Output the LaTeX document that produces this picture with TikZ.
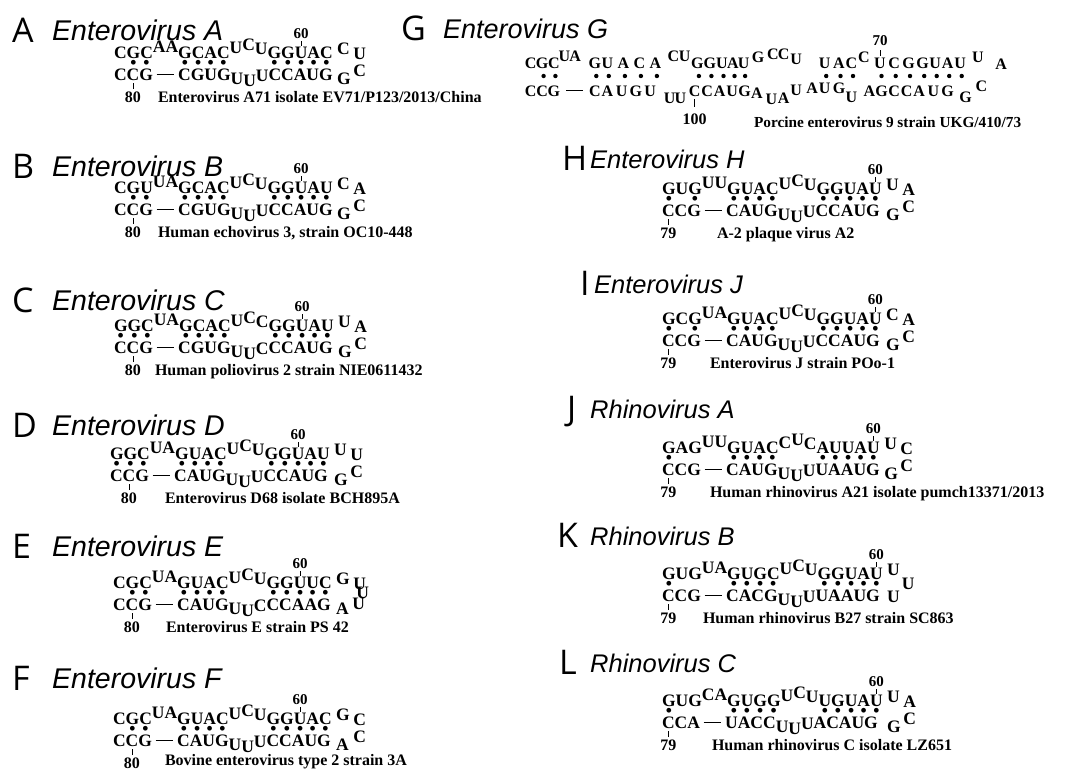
\documentclass[tikz,border=0pt]{standalone}
\usepackage{fontspec}
\setmainfont{Liberation Serif}
\newfontfamily\ttlfont{Liberation Sans}
\newfontfamily\bigfont{Open Sans}
\newcommand\Rup[2]{\raisebox{#1}{#2}}
\newcommand\Rdot[1]{\setbox0\hbox{#1}\hbox to\wd0{\hss\textbullet\hss}}
\newcommand\Rph[1]{\phantom{#1}}
\newcommand\Rdash[1]{\setbox0\hbox{#1}\hbox to\wd0{\hss\rule[0.3em]{0.7\wd0}{0.07em}\hss}}
\newcommand\Rtop[2]{\setbox0\hbox{#1}\rlap{\hbox to\wd0{\hss\raisebox{12.5pt}{\rule{0.7pt}{5pt}}\hss}}\rlap{\hbox to\wd0{\hss\raisebox{19.5pt}{\fontsize{15}{15}\selectfont#2}\hss}}#1}
\newcommand\Rbot[2]{\setbox0\hbox{#1}\rlap{\hbox to\wd0{\hss\raisebox{-9pt}{\rule{0.7pt}{6pt}}\hss}}\rlap{\hbox to\wd0{\hss\raisebox{-22pt}{\fontsize{16}{16}\selectfont#2}\hss}}#1}
\newcommand\Rtl[3]{\Rup{5pt}{#1}\Rup{8pt}{#2}\Rup{4pt}{#3}}
\newcommand\Rbl[3]{\Rup{-4pt}{#1}\Rup{-6pt}{#2}\Rup{-1pt}{#3}}
\newcommand\Rterm[4]{\hspace{4.5pt}\rlap{\raisebox{-26pt}{#3}}\Rup{4pt}{#1}\hspace{3.5pt}\rlap{\raisebox{-18pt}{#4}}\Rup{-1pt}{#2}}
\tikzset{
  rna/.style={anchor=base west, inner sep=0pt, outer sep=0pt, font=\fontsize{17.5}{19}\selectfont\bfseries},
  lbl/.style={anchor=base west, inner sep=0pt, outer sep=0pt, font=\fontsize{16}{18}\selectfont\bfseries},
  rnaG/.style={anchor=base, inner sep=0pt, outer sep=0pt, font=\fontsize{16}{18}\selectfont\bfseries},
  bigl/.style={anchor=base west, inner sep=0pt, font=\bigfont\fontsize{34}{36}\selectfont},
  ttl/.style={anchor=base west, inner sep=0pt, font=\ttlfont\itshape\fontsize{28.5}{30}\selectfont},
  ttlr/.style={ttl, font=\ttlfont\itshape\fontsize{25.5}{28}\selectfont},
  dotn/.style={circle, fill=black, inner sep=0pt, minimum size=4.4pt},
  tickl/.style={line width=0.7pt},
  dashl/.style={line width=1.1pt},
}
\newcommand\Rpanel[9]{%
  \node[rna] (#1top) at (#2,#3) {#4};
  \node[rna] (#1dot) at (#2,#3+10.5) {#5};
  \node[rna] (#1bot) at (#2,#3+22) {#6};
  \node[lbl] (#1lab) at (#7,#3+#9) {#8};
}
\begin{document}
\begin{tikzpicture}[x=1pt,y=-1pt]
\fill[white] (0,0) rectangle (1076,772);
\useasboundingbox (0,0) rectangle (1076,772);

% ---------- titles ----------
\node[bigl] (Aa) at (12,42) {A};  \node[ttl] (At) at (52,40) {Enterovirus A};
\node[bigl] (Ba) at (12,178) {B}; \node[ttl] (Bt) at (52,176) {Enterovirus B};
\node[bigl] (Ca) at (12,312) {C}; \node[ttl] (Ct) at (52,310) {Enterovirus C};
\node[bigl] (Da) at (12,437) {D}; \node[ttl] (Dt) at (52,435) {Enterovirus D};
\node[bigl] (Ea) at (12,558) {E}; \node[ttl] (Et) at (52,556) {Enterovirus E};
\node[bigl] (Fa) at (12,690) {F}; \node[ttl] (Ft) at (52,688) {Enterovirus F};
\node[bigl] (Ga) at (401,40) {G}; \node[ttl, font=\ttlfont\itshape\fontsize{27}{30}\selectfont] (Gt) at (443,38) {Enterovirus G};
\node[bigl] (Ha) at (562,170) {H}; \node[ttlr] (Ht) at (590,168) {Enterovirus H};
\node[bigl] (Ia) at (580,295) {I}; \node[ttlr] (It) at (594,293) {Enterovirus J};
\node[bigl] (Ja) at (567,420) {J}; \node[ttlr] (Jt) at (590,418) {Rhinovirus A};
\node[bigl] (Ka) at (557,547) {K}; \node[ttlr] (Kt) at (590,545) {Rhinovirus B};
\node[bigl] (La) at (559,674) {L}; \node[ttlr] (Lt) at (590,672) {Rhinovirus C};

% ---------- A ----------
\Rpanel{A}{114}{58}
 {CGC\Rup{6pt}{AA}GCAC\Rtl{U}{C}{U}GG\Rtop{U}{60}AC\Rterm{C}{U}{G}{C}}
 {\Rph{C}\Rdot{G}\Rdot{C}\Rph{AA}\Rdot{G}\Rdot{C}\Rdot{A}\Rdot{C}\Rph{UCU}\Rdot{G}\Rdot{G}\Rdot{U}\Rdot{A}\Rdot{C}}
 {C\Rbot{C}{80}G\Rdash{AA}CGUG\Rbl{U}{U}{U}CCAUG}
 {158}{Enterovirus A71 isolate EV71/P123/2013/China}{44}
% ---------- B ----------
\Rpanel{B}{114}{193}
 {CGU\Rup{6pt}{UA}GCAC\Rtl{U}{C}{U}GG\Rtop{U}{60}AU\Rterm{C}{A}{G}{C}}
 {\Rph{C}\Rdot{G}\Rdot{U}\Rph{UA}\Rdot{G}\Rdot{C}\Rdot{A}\Rdot{C}\Rph{UCU}\Rdot{G}\Rdot{G}\Rdot{U}\Rdot{A}\Rdot{U}}
 {C\Rbot{C}{80}G\Rdash{UA}CGUG\Rbl{U}{U}{U}CCAUG}
 {158}{Human echovirus 3, strain OC10-448}{44}
% ---------- C ----------
\Rpanel{C}{114}{331}
 {GGC\Rup{6pt}{UA}GCAC\Rtl{U}{C}{C}GG\Rtop{U}{60}AU\Rterm{U}{A}{G}{C}}
 {\Rdot{G}\Rdot{G}\Rdot{C}\Rph{UA}\Rdot{G}\Rdot{C}\Rdot{A}\Rdot{C}\Rph{UCC}\Rdot{G}\Rdot{G}\Rdot{U}\Rdot{A}\Rdot{U}}
 {C\Rbot{C}{80}G\Rdash{UA}CGUG\Rbl{U}{U}{C}CCAUG}
 {155}{Human poliovirus 2 strain NIE0611432}{44}
% ---------- D ----------
\Rpanel{D}{110}{459}
 {GGC\Rup{6pt}{UA}GUAC\Rtl{U}{C}{U}GG\Rtop{U}{60}AU\Rterm{U}{U}{G}{C}}
 {\Rdot{G}\Rdot{G}\Rdot{C}\Rph{UA}\Rdot{G}\Rdot{U}\Rdot{A}\Rdot{C}\Rph{UCU}\Rdot{G}\Rdot{G}\Rdot{U}\Rdot{A}\Rdot{U}}
 {C\Rbot{C}{80}G\Rdash{UA}CAUG\Rbl{U}{U}{U}CCAUG}
 {165}{Enterovirus D68 isolate BCH895A}{44}
% ---------- E ----------
\Rpanel{E}{113}{588}
 {CGC\Rup{6pt}{UA}GUAC\Rtl{U}{C}{U}GG\Rtop{U}{60}UC\hspace{4.5pt}\rlap{\raisebox{-26pt}{A}}\Rup{4pt}{G}\hspace{3.5pt}\rlap{\raisebox{-21pt}{\hspace{-1pt}U}}\rlap{\raisebox{-10pt}{\hspace{3pt}U}}\Rup{-1pt}{U}}
 {\Rph{C}\Rdot{G}\Rdot{C}\Rph{UA}\Rdot{G}\Rdot{U}\Rdot{A}\Rdot{C}\Rph{UCU}\Rdot{G}\Rdot{G}\Rdot{U}\Rdot{U}\Rdot{C}}
 {C\Rbot{C}{80}G\Rdash{UA}CAUG\Rbl{U}{U}{C}CCAAG}
 {166}{Enterovirus E strain PS 42}{44}
% ---------- F ----------
\Rpanel{F}{113}{724}
 {CGC\Rup{6pt}{UA}GUAC\Rtl{U}{C}{U}GG\Rtop{U}{60}AC\Rterm{G}{C}{A}{C}}
 {\Rph{C}\Rdot{G}\Rdot{C}\Rph{UA}\Rdot{G}\Rdot{U}\Rdot{A}\Rdot{C}\Rph{UCU}\Rdot{G}\Rdot{G}\Rdot{U}\Rdot{A}\Rdot{C}}
 {C\Rbot{C}{80}G\Rdash{UA}CAUG\Rbl{U}{U}{U}CCAUG}
 {165}{Bovine enterovirus type 2 strain 3A}{41}
% ---------- H ----------
\Rpanel{H}{662}{194}
 {GUG\Rup{6pt}{UU}GUAC\Rtl{U}{C}{U}GGUA\Rtop{U}{60}\Rterm{U}{A}{G}{C}}
 {\Rdot{G}\Rph{U}\Rdot{G}\Rph{UU}\Rdot{G}\Rdot{U}\Rdot{A}\Rdot{C}\Rph{UCU}\Rdot{G}\Rdot{G}\Rdot{U}\Rdot{A}\Rdot{U}}
 {\Rbot{C}{79}CG\Rdash{UU}CAUG\Rbl{U}{U}{U}CCAUG}
 {717}{A-2 plaque virus A2}{44}
% ---------- I ----------
\Rpanel{I}{662}{324}
 {GCG\Rup{6pt}{UA}GUAC\Rtl{U}{C}{U}GGUA\Rtop{U}{60}\Rterm{C}{A}{G}{C}}
 {\Rdot{G}\Rph{C}\Rdot{G}\Rph{UA}\Rdot{G}\Rdot{U}\Rdot{A}\Rdot{C}\Rph{UCU}\Rdot{G}\Rdot{G}\Rdot{U}\Rdot{A}\Rdot{U}}
 {\Rbot{C}{79}CG\Rdash{UA}CAUG\Rbl{U}{U}{U}CCAUG}
 {710}{Enterovirus J strain POo-1}{44}
% ---------- J ----------
\Rpanel{J}{662}{453}
 {GAG\Rup{6pt}{UU}GUAC\Rtl{C}{U}{C}AUUA\Rtop{U}{60}\Rterm{U}{C}{G}{C}}
 {\Rdot{G}\Rph{AG}\Rph{UU}\Rdot{G}\Rdot{U}\Rdot{A}\Rdot{C}\Rph{CUC}\Rdot{A}\Rdot{U}\Rdot{U}\Rdot{A}\Rdot{U}}
 {\Rbot{C}{79}CG\Rdash{UU}CAUG\Rbl{U}{U}{U}UAAUG}
 {710}{Human rhinovirus A21 isolate pumch13371/2013}{44}
% ---------- K ----------
\Rpanel{K}{662}{579}
 {GUG\Rup{6pt}{UA}GUGC\Rtl{U}{C}{U}GGUA\Rtop{U}{60}\hspace{4.5pt}\rlap{\raisebox{-23pt}{U}}\Rup{4pt}{U}\hspace{2pt}\rlap{\raisebox{-10pt}{U}}}
 {\Rdot{G}\Rph{UG}\Rph{UA}\Rdot{G}\Rdot{U}\Rdot{G}\Rdot{C}\Rph{UCU}\Rdot{G}\Rdot{G}\Rdot{U}\Rdot{A}\Rdot{U}}
 {\Rbot{C}{79}CG\Rdash{UA}CACG\Rbl{U}{U}{U}UAAUG}
 {703}{Human rhinovirus B27 strain SC863}{44}
% ---------- L ----------
\Rpanel{L}{662}{706}
 {GUG\Rup{6pt}{CA}GUGG\Rtl{U}{C}{U}UGUA\Rtop{U}{60}\Rterm{U}{A}{G}{C}}
 {\Rdot{G}\Rph{UG}\Rph{CA}\Rdot{G}\Rdot{U}\Rdot{G}\Rdot{G}\Rph{UCU}\Rdot{U}\Rdot{G}\Rdot{U}\Rdot{A}\Rdot{U}}
 {\Rbot{C}{79}CA\Rdash{CA}UACC\Rbl{U}{U}{U}ACAUG}
 {712}{Human rhinovirus C isolate LZ651}{44}

% ---------- G (grid) ----------
\foreach \x/\t/\r [count=\i] in {530.7/C/0,542.1/G/0,553.9/C/0,564.5/U/7,575.2/A/7,594.8/G/0,607.3/U/0,623.4/A/0,639.4/C/0,655.4/A/0,673.3/C/7,684.7/U/7,697.4/G/0,709.9/G/0,722/U/0,733/A/0,743.6/U/0,758.1/G/6,773/C/9,783.7/C/9,796.2/U/4,824.7/U/0,839/A/0,851.5/C/0,863.9/C/6,894.2/C/0,908.5/G/0,922.7/G/0,935.2/U/0,947.7/A/0,960.2/U/0,978/U/6,1001.1/A/-1}
  \node[rnaG] (Gt\i) at (\x,68-\r) {\t};
\node[rnaG] (G70u) at (880,68) {U};
\foreach \x/\t/\r [count=\i] in {530.7/C/0,542.1/C/0,553.9/G/0,594.8/C/0,607.3/A/0,621.6/U/0,635.8/G/0,650.1/U/0,669.7/U/-7,680.4/U/-7,707.1/C/0,719.6/A/0,732.1/U/0,744.5/G/0,757/A/-2,771.3/U/-8,783.7/A/-7,796.2/U/1,812.2/A/3,824.7/U/3,839/G/3,851.5/U/-6,869.3/A/0,881.7/G/0,894.2/C/0,906.7/C/0,919.2/A/0,933.4/U/0,947.7/G/0,965.5/G/-6,981.5/C/5}
  \node[rnaG] (Gb\i) at (\x,96-\r) {\t};
\node[rnaG] (G100c) at (694.6,96) {C};
\foreach \x in {543.6,555.4,596.3,608.8,624.9,640.9,656.9,698.9,711.4,723.5,734.5,745.1,826.2,840.5,853,881.5,895.7,910,924.2,936.7,949.2,961.7}
  \node[dotn] at (\x,76) {};
\draw[dashl] ([xshift=6pt]Gb3.east) -- ([xshift=-6pt]Gb4.west);
\draw[tickl] ([yshift=2pt]G70u.north) -- ([yshift=8pt]G70u.north);
\node[rnaG, font=\fontsize{15}{15}\selectfont\bfseries] (G70) at ([yshift=12pt]G70u.north) {70};
\draw[tickl] ([yshift=-3pt]G100c.base) -- ([yshift=-11pt]G100c.base);
\node[rnaG] (G100) at ([yshift=-28pt]G100c.base) {100};
\node[lbl, font=\fontsize{15.3}{17}\selectfont\bfseries] (Glab) at (754,127) {Porcine enterovirus 9 strain UKG/410/73};
\end{tikzpicture}
\end{document}
